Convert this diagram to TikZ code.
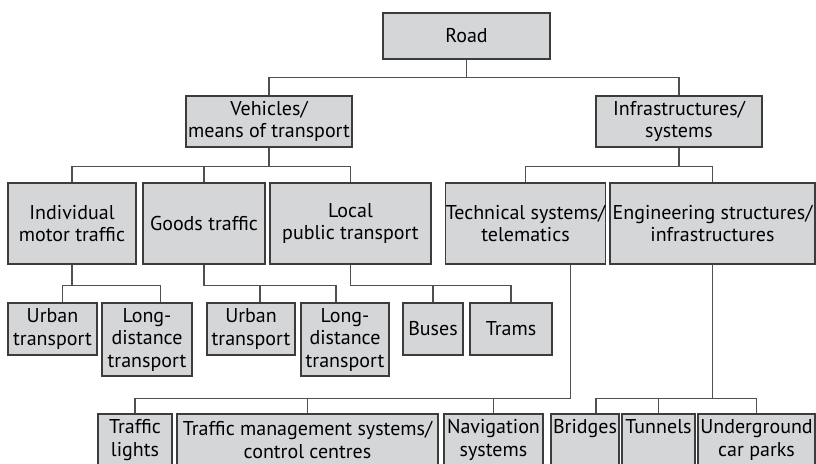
\documentclass[tikz,border=0pt]{standalone}
\usepackage{fontspec}
\setmainfont{PT Sans}
\usetikzlibrary{positioning}
\definecolor{boxfill}{RGB}{212,214,216}
\definecolor{boxline}{RGB}{60,60,60}
\definecolor{linkline}{RGB}{80,80,80}
\begin{document}
\begin{tikzpicture}[x=1pt, y=-1pt]
		% STYLES
		\tikzstyle{box} = [draw=boxline, fill=boxfill, line width=1.2pt, rectangle, align=center, inner sep=0pt,
			font=\fontsize{20}{22.5}\selectfont]
		\tikzstyle{link} = [draw=linkline, line width=1.2pt]

		% CADRE
		\useasboundingbox (0, 0) rectangle (816, 463);
		\clip (0, 0) rectangle (816, 463);

		% NIVEAU 1
		\node[box, minimum width=167, minimum height=46] (road) at (466.5, 36) {Road};

		% NIVEAU 2
		\node[box, minimum width=166, minimum height=51] (veh) at (269, 121.5) {Vehicles/\\means of transport};
		\node[box, minimum width=166, minimum height=51] (infra) at (679, 121.5) {Infrastructures/\\systems};

		% NIVEAU 3
		\node[box, minimum width=128, minimum height=81] (motor) at (72, 223.5) {Individual\\motor traffic};
		\node[box, minimum width=122, minimum height=81] (goods) at (204, 223.5) {Goods traffic};
		\node[box, minimum width=161, minimum height=81] (local) at (350.5, 223.5) {Local\\public transport};
		\node[box, minimum width=159, minimum height=81] (tech) at (525.5, 223.5) {Technical systems/\\telematics};
		\node[box, minimum width=205, minimum height=81] (engin) at (712.5, 223.5) {Engineering structures/\\infrastructures};

		% NIVEAU 4
		\node[box, minimum width=89, minimum height=52] (urbanA) at (52.5, 329) {Urban\\transport};
		\node[box, minimum width=90, minimum height=73] (longA) at (147, 339.5) {Long-\\distance\\transport};
		\node[box, minimum width=88, minimum height=52] (urbanB) at (251, 329) {Urban\\transport};
		\node[box, minimum width=88, minimum height=73] (longB) at (345, 339.5) {Long-\\distance\\transport};
		\node[box, minimum width=60, minimum height=52] (buses) at (433, 329) {Buses};
		\node[box, minimum width=82, minimum height=52] (trams) at (511, 329) {Trams};

		% NIVEAU 5
		\node[box, minimum width=74, minimum height=52] (lights) at (135, 440) {Traffic\\lights};
		\node[box, minimum width=261, minimum height=52] (mgmt) at (307.5, 440) {Traffic management systems/\\control centres};
		\node[box, minimum width=99, minimum height=52] (navi) at (493.5, 440) {Navigation\\systems};
		\node[box, minimum width=68, minimum height=52] (bridges) at (585, 440) {Bridges\\\phantom{y}};
		\node[box, minimum width=73, minimum height=52] (tunnels) at (658.5, 440) {Tunnels\\\phantom{y}};
		\node[box, minimum width=117, minimum height=52] (garage) at (756.5, 440) {Underground\\car parks};

		% LIENS
		\draw[link] (road.south) -- ++(0, 18) coordinate (jroad);
		\draw[link] (veh.north) |- (jroad) -| (infra.north);

		\draw[link] (veh.south) -- ++(0, 19) coordinate (jveh);
		\draw[link] (motor.north) |- (jveh) -| (local.north);
		\draw[link] (goods.north) -- (goods.north |- jveh);

		\draw[link] (infra.south) -- ++(0, 19) coordinate (jinfra);
		\draw[link] (tech.north) |- (jinfra) -| (engin.north);

		\draw[link] (motor.south) -- ++(0, 21) coordinate (jmotor);
		\draw[link] ([xshift=10pt]urbanA.north) |- (jmotor) -| ([xshift=13.5pt]longA.north);

		\draw[link] (goods.south) -- ++(0, 21) coordinate (jgoods);
		\draw[link] (jgoods) -| ([xshift=-9pt]longB.north);
		\draw[link] ([xshift=9pt]urbanB.north) -- ([xshift=9pt]urbanB.north |- jgoods);

		\draw[link] (local.south) -- ++(0, 21) coordinate (jlocal);
		\draw[link] (jlocal) -| (trams.north);
		\draw[link] (buses.north) -- (buses.north |- jlocal);

		\draw[link] ([xshift=45pt]tech.south) -- ++(0, 134) coordinate (jtech);
		\draw[link] (jtech) -| (lights.north);
		\draw[link] (mgmt.north) -- (mgmt.north |- jtech);
		\draw[link] (navi.north) -- (navi.north |- jtech);

		\draw[link] (engin.south) -- ++(0, 134) coordinate (jengin);
		\draw[link] ([xshift=11pt]bridges.north) |- (jengin) -| (garage.north);
		\draw[link] (tunnels.north) -- (tunnels.north |- jengin);
\end{tikzpicture}
\end{document}
